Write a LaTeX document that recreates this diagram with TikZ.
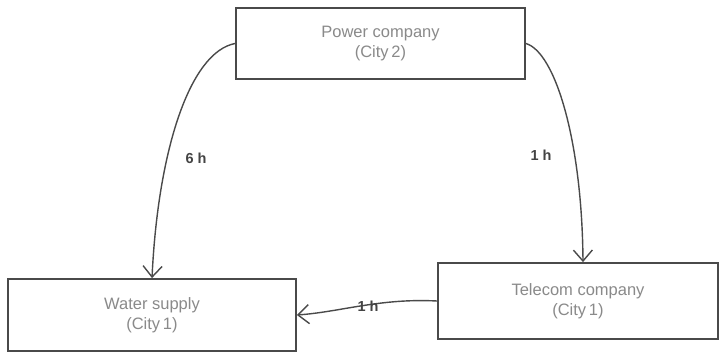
\documentclass[tikz,border=0pt]{standalone}
\usepackage{fontspec}
\setmainfont{Liberation Sans}
\usetikzlibrary{arrows.meta}
\definecolor{boxtxt}{HTML}{8A8A8A}
\definecolor{lbl}{HTML}{444444}
\definecolor{edge}{HTML}{4A4A4A}
\begin{document}
\begin{tikzpicture}[x=1pt,y=-1pt,
  box/.style={draw=edge,line width=1.8pt,fill=white,text=boxtxt,align=center,
    font=\fontsize{16.5}{20}\selectfont,inner sep=0pt},
  conn/.style={draw=edge,line width=1.4pt,-{Straight Barb[length=11pt,width=19pt,line width=1.4pt]}},
  lab/.style={text=lbl,font=\fontsize{14.5}{16}\selectfont\bfseries}]
\useasboundingbox (0,0) rectangle (720,353);
\node[box,minimum width=289pt,minimum height=71pt] (power) at (380.5,43.5) {Power company\\(City\,2)};
\node[box,minimum width=288pt,minimum height=72pt] (water) at (152,315) {Water supply\\(City\,1)};
\node[box,minimum width=280pt,minimum height=76pt] (tele) at (578,301) {Telecom company\\(City\,1)};
\draw[conn] (power.west) .. controls (190,52) and (158,150) .. (water.north -| 152,0);
\draw[conn] (power.east) .. controls (555,52) and (582,140) .. (tele.north -| 583,0);
\draw[conn] (tele.west) .. controls (380,298) and (340,312) .. (water.east);
\node[lab] (l1) at (196,158) {6 h};
\node[lab] (l2) at (541,155) {1 h};
\node[lab] (l3) at (368,306) {1 h};
\end{tikzpicture}
\end{document}
